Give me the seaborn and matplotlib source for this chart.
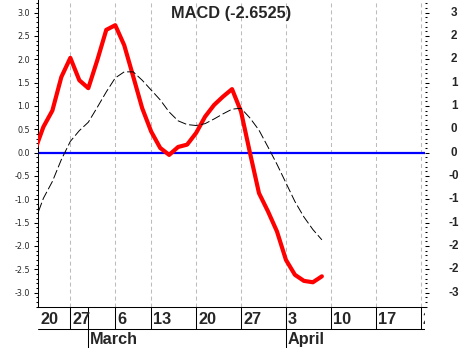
import matplotlib
matplotlib.use("Agg")
import matplotlib.pyplot as plt
import matplotlib.transforms as mtransforms
from matplotlib.ticker import MultipleLocator
import pandas as pd
import seaborn as sns

# Trading sessions, counted from Monday 27 February (session 0)
session = list(range(-4, 29))

# MACD line and its signal line, one value per session
macd = [0.02, 0.55, 0.90, 1.62, 2.03, 1.55, 1.38, 1.98, 2.63, 2.73,
        2.30, 1.63, 0.95, 0.45, 0.10, -0.05, 0.12, 0.17, 0.42, 0.77,
        1.02, 1.20, 1.36, 0.88, -0.01, -0.87, -1.26, -1.69, -2.30, -2.62,
        -2.75, -2.78, -2.6525]
signal = [-1.50, -0.98, -0.62, -0.15, 0.24, 0.47, 0.65, 0.97, 1.30, 1.60,
          1.73, 1.73, 1.55, 1.34, 1.13, 0.87, 0.68, 0.60, 0.58, 0.62,
          0.72, 0.83, 0.93, 0.95, 0.74, 0.48, 0.12, -0.25, -0.65, -1.05,
          -1.38, -1.65, -1.87]

# Week starts (day of month) and month starts on the session axis
week_sessions = [-5, 0, 5, 9, 14, 19, 24, 29, 34, 39]
week_labels = ["20", "27", "6", "13", "20", "27", "3", "10", "17", "24"]
month_sessions = [2, 24]
month_labels = ["March", "April"]

# Value axis ticks: decimals on the left, truncated integers on the right
y_ticks = [3.0, 2.5, 2.0, 1.5, 1.0, 0.5, 0.0, -0.5, -1.0, -1.5, -2.0, -2.5, -3.0]
right_labels = ["3", "2", "2", "1", "1", "0", "0", "-0", "-1", "-1", "-2", "-2", "-3"]

sns.set_style("white")
plt.rcParams["axes.unicode_minus"] = False
BOLD = dict(family=["Liberation Sans", "DejaVu Sans"], weight="bold")

W, H = 463, 348
L, R, B = 38, 425, 307
fig = plt.figure(figsize=(W / 100, H / 100), dpi=100)
fig.patch.set_facecolor("white")
ax = fig.add_axes([L / W, (H - B) / H, (R - L) / W, B / H])
strip = fig.add_axes([L / W, 0, (R - L) / W, (H - B) / H])

X0, X1 = -3.6, 39.48
ax.set_xlim(X0, X1)
ax.set_ylim(-3.31, 3.27)

df = pd.DataFrame({"session": session, "macd": macd, "signal": signal})

for s in week_sessions:
    ax.axvline(s, color="#bcbcbc", lw=0.75, ls=(0, (3.8, 2.9)), zorder=0)
ax.axhline(0, color="#0000ff", lw=1.6, zorder=2)
sns.lineplot(data=df, x="session", y="macd", ax=ax, color="#ff0000",
             lw=3.0, zorder=3)
sns.lineplot(data=df, x="session", y="signal", ax=ax, color="black",
             lw=0.7, linestyle=(0, (9.3, 3.1)), zorder=4)

ax.set_xlabel("")
ax.set_ylabel("")
ax.set_xticks([])
ax.set_yticks(y_ticks)
ax.set_yticklabels([f"{v:.1f}" for v in y_ticks],
                   fontdict=dict(family="DejaVu Sans", size=5.8))
ax.yaxis.set_minor_locator(MultipleLocator(0.1))
ax.tick_params(axis="y", which="both", left=True, right=True,
               direction="out", width=0.75, color="black", pad=2.9)
ax.tick_params(axis="y", which="major", length=2.9)
ax.tick_params(axis="y", which="minor", length=1.5)
for side in ("top", "right"):
    ax.spines[side].set_visible(False)
for side in ("left", "bottom"):
    ax.spines[side].set_color("black")
    ax.spines[side].set_linewidth(0.75)

ytrans = ax.get_yaxis_transform()
xr = (454 - L) / (R - L)
for v, lab in zip(y_ticks, right_labels):
    ax.text(xr, v, lab, transform=ytrans, ha="center", va="center",
            fontsize=8.4, clip_on=False, **BOLD)

ax.text(0.5, (B - 18.3) / B, f"MACD ({macd[-1]:.4f})", transform=ax.transAxes,
        ha="center", va="baseline", fontsize=11.8, **BOLD)

# Date strip under the plot: week row and month row
strip.set_xlim(X0, X1)
strip.set_ylim(H - B, 0)
strip.axis("off")
strip.axhline(21.5, color="black", lw=0.75)
strip.vlines([s for s in week_sessions if s > X0], 0, 21.5, color="black", lw=0.75)
strip.vlines(month_sessions, 0, H - B, color="black", lw=0.75)
shift = mtransforms.offset_copy(strip.transData, fig=fig, x=2, y=0, units="dots")
for s, lab in zip(week_sessions, week_labels):
    t = strip.text(max(s, X0), 16.5, lab, transform=shift, ha="left",
                   va="baseline", fontsize=11.7, **BOLD)
    t.set_clip_on(True)
    t.set_clip_box(strip.bbox)
for s, lab in zip(month_sessions, month_labels):
    strip.text(s, 37, lab, transform=shift, ha="left", va="baseline",
               fontsize=11.7, **BOLD)

fig.savefig("out.png", dpi=100, facecolor="white")
